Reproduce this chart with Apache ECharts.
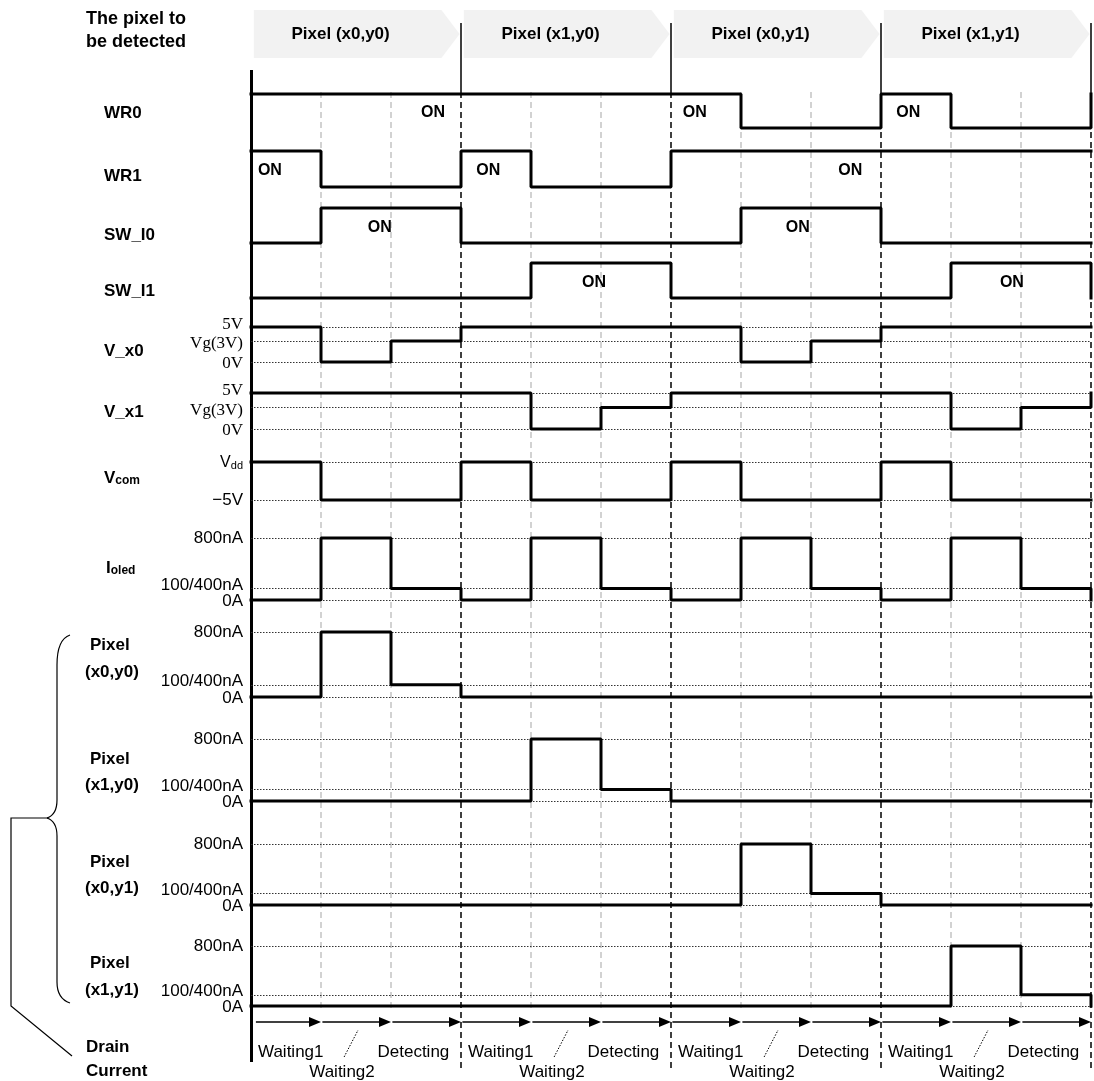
<!DOCTYPE html>
<html>
<head>
<meta charset="utf-8">
<script src="https://cdn.jsdelivr.net/npm/echarts@6/dist/echarts.min.js"></script>
<style>
  html, body { margin: 0; padding: 0; background: #fff; }
  #chart { width: 1094px; height: 1081px; }
</style>
</head>
<body>
<div id="chart"></div>
<script>
// time runs 0..12: 4 pixel periods, each split into Waiting1 / Waiting2 / Detecting
const periods = ['Pixel (x0,y0)', 'Pixel (x1,y0)', 'Pixel (x0,y1)', 'Pixel (x1,y1)']
const phases = ['Waiting1', 'Waiting2', 'Detecting']
const periodBounds = [3, 6, 9, 12]
const phaseBounds = [1, 2, 4, 5, 7, 8, 10, 11]

// step signals as [time, level]
const wr0 = [[0, 1], [7, 0], [9, 1], [10, 0], [12, 1]]
const wr1 = [[0, 1], [1, 0], [3, 1], [4, 0], [6, 1], [12, 1]]
const swI0 = [[0, 0], [1, 1], [3, 0], [7, 1], [9, 0], [12, 0]]
const swI1 = [[0, 0], [4, 1], [6, 0], [10, 1], [12, 0]]
const vX0 = [[0, 5], [1, 0], [2, 3], [3, 5], [7, 0], [8, 3], [9, 5], [12, 5]]
const vX1 = [[0, 5], [4, 0], [5, 3], [6, 5], [10, 0], [11, 3], [12, 5]]
const vCom = [[0, 5], [1, -5], [3, 5], [4, -5], [6, 5], [7, -5], [9, 5], [10, -5], [12, -5]]
const iOled = [[0, 0], [1, 800], [2, 150], [3, 0], [4, 800], [5, 150], [6, 0], [7, 800], [8, 150], [9, 0], [10, 800], [11, 150], [12, 0]]
const iPx00 = [[0, 0], [1, 800], [2, 150], [3, 0], [12, 0]]
const iPx10 = [[0, 0], [4, 800], [5, 150], [6, 0], [12, 0]]
const iPx01 = [[0, 0], [7, 800], [8, 150], [9, 0], [12, 0]]
const iPx11 = [[0, 0], [10, 800], [11, 150], [12, 0]]

// tick values and their labels
const voltTicks = [0, 3, 5]
const voltLabels = ['0V', 'Vg(3V)', '5V']
const vcomTicks = [-5, 5]
const vcomLabels = ['−5V', 'Vdd']
const currentTicks = [0, 150, 800]
const currentLabels = ['0A', '100/400nA', '800nA']

const signalNames = ['WR0', 'WR1', 'SW_I0', 'SW_I1', 'V_x0', 'V_x1', 'Vcom', 'Ioled']
const pixelNames = ['(x0,y0)', '(x1,y0)', '(x0,y1)', '(x1,y1)']

const SANS = '"Liberation Sans", Arial, sans-serif'
const SERIF = '"Liberation Serif", serif'
const LEFT = 251
const WIDTH = 840

const chart = echarts.init(document.getElementById('chart'))
const grid = []
const xAxis = []
const yAxis = []
const series = []

function addGrid(top, bottom, min, max, yExtra) {
  const gi = grid.length
  grid.push({ left: LEFT, width: WIDTH, top: top, height: bottom - top })
  xAxis.push({ gridIndex: gi, type: 'value', min: 0, max: 12, show: false })
  yAxis.push(Object.assign({ gridIndex: gi, type: 'value', min: min, max: max, show: false }, yExtra || {}))
  return { gi: gi, yi: yAxis.length - 1 }
}

// vertical guide lines in their own grid
function vlines(top, bottom, values, style) {
  const a = addGrid(top, bottom, 0, 1)
  series.push({
    type: 'line', xAxisIndex: a.gi, yAxisIndex: a.yi, silent: true, animation: false,
    data: [[0, 0]], symbol: 'none', lineStyle: { opacity: 0 },
    markLine: {
      silent: true, symbol: 'none', animation: false, label: { show: false },
      lineStyle: style, data: values.map(v => ({ xAxis: v }))
    }
  })
}

vlines(23, 94, periodBounds, { type: 'solid', color: '#000', width: 1.5 })
vlines(94, 1068, periodBounds, { type: [6, 4], color: '#000', width: 1.5 })
vlines(88, 1008, phaseBounds, { type: [6, 4], color: '#c4c4c4', width: 1.5 })
vlines(70, 1062, [0], { type: 'solid', color: '#000', width: 3 })

// header chevrons
const hAx = addGrid(10, 58, 0, 1)
series.push({
  type: 'custom', xAxisIndex: hAx.gi, yAxisIndex: hAx.yi, silent: true, animation: false,
  data: periods.map((p, i) => [i]),
  renderItem: (params, api) => {
    const p = api.value(0)
    const t0 = p * 3
    const a = api.coord([t0 + 0.04, 1])
    const b = api.coord([t0 + 2.72, 1])
    const c = api.coord([t0 + 2.98, 0.5])
    const d = api.coord([t0 + 2.72, 0])
    const e = api.coord([t0 + 0.04, 0])
    const m = api.coord([t0 + 1.28, 0.5])
    return {
      type: 'group',
      children: [
        { type: 'polygon', shape: { points: [a, b, c, d, e] }, style: { fill: '#f2f2f2', stroke: null } },
        { type: 'text', style: { text: periods[p], x: m[0], y: m[1], align: 'center', verticalAlign: 'middle', font: 'bold 17px ' + SANS, fill: '#000' } }
      ]
    }
  }
})

const richSub = {
  a: { fontSize: 16, fontFamily: SANS, color: '#000', lineHeight: 18, verticalAlign: 'bottom' },
  b: { fontSize: 11, fontFamily: SANS, color: '#000', lineHeight: 18, verticalAlign: 'bottom' },
  z: { fontSize: 17, fontFamily: SANS, color: '#000', padding: [3, 0, 0, 0] },
  m: { fontSize: 17, fontFamily: SANS, color: '#000', padding: [0, 0, 7, 0] },
  vlo: { fontSize: 17, fontFamily: SERIF, color: '#000', padding: [4, 0, 0, 0] },
  vmid: { fontSize: 17, fontFamily: SERIF, color: '#000', padding: [6, 0, 0, 0] },
  vhi: { fontSize: 17, fontFamily: SERIF, color: '#000', padding: [0, 0, 4, 0] }
}
const voltStyle = ['vlo', 'vmid', 'vhi']
const currentStyle = ['z', 'm', null]

const rows = [
  { data: wr0, top: 94, bottom: 128, min: 0, max: 1, on: [2.6, 6.34, 9.39] },
  { data: wr1, top: 151, bottom: 187, min: 0, max: 1, on: [0.27, 3.39, 8.56] },
  { data: swI0, top: 208, bottom: 243, min: 0, max: 1, on: [1.84, 7.81] },
  { data: swI1, top: 263, bottom: 298, min: 0, max: 1, on: [4.9, 10.87] },
  { data: vX0, top: 327, bottom: 362, min: 0, max: 5, ticks: voltTicks, labels: voltLabels, font: SERIF, size: 17, styles: voltStyle },
  { data: vX1, top: 393, bottom: 429, min: 0, max: 5, ticks: voltTicks, labels: voltLabels, font: SERIF, size: 17, styles: voltStyle },
  { data: vCom, top: 462, bottom: 500, min: -5, max: 5, ticks: vcomTicks, labels: vcomLabels, font: SANS, size: 17, sub: true },
  { data: iOled, top: 538, bottom: 600, min: 0, max: 800, ticks: currentTicks, labels: currentLabels, font: SANS, size: 17, styles: currentStyle },
  { data: iPx00, top: 632, bottom: 697, min: 0, max: 800, ticks: currentTicks, labels: currentLabels, font: SANS, size: 17, styles: currentStyle },
  { data: iPx10, top: 739, bottom: 801, min: 0, max: 800, ticks: currentTicks, labels: currentLabels, font: SANS, size: 17, styles: currentStyle },
  { data: iPx01, top: 844, bottom: 905, min: 0, max: 800, ticks: currentTicks, labels: currentLabels, font: SANS, size: 17, styles: currentStyle },
  { data: iPx11, top: 946, bottom: 1006, min: 0, max: 800, ticks: currentTicks, labels: currentLabels, font: SANS, size: 17, styles: currentStyle }
]

function tickAxis(r, values) {
  return {
    show: true,
    position: 'left',
    axisLine: { show: false },
    axisTick: { show: false },
    splitLine: { show: false },
    axisLabel: {
      customValues: values,
      showMinLabel: true,
      showMaxLabel: true,
      hideOverlap: false,
      margin: 8,
      color: '#000',
      fontSize: r.size,
      fontFamily: r.font,
      rich: richSub,
      formatter: v => {
        const k = r.ticks.indexOf(v)
        const txt = r.labels[k]
        if (r.sub && txt === 'Vdd') return '{a|V}{b|dd}'
        if (r.styles && r.styles[k]) return '{' + r.styles[k] + '|' + txt + '}'
        return txt
      }
    }
  }
}

rows.forEach(r => {
  // outer ticks on the main axis, the middle tick on a twin axis so none get dropped
  const outer = r.ticks ? [r.ticks[0], r.ticks[r.ticks.length - 1]] : null
  const ax = addGrid(r.top, r.bottom, r.min, r.max, r.ticks ? tickAxis(r, outer) : null)
  if (r.ticks && r.ticks.length > 2) {
    yAxis.push(Object.assign({ gridIndex: ax.gi, type: 'value', min: r.min, max: r.max }, tickAxis(r, r.ticks.slice(1, -1))))
  }
  const s = {
    type: 'line', step: 'end', xAxisIndex: ax.gi, yAxisIndex: ax.yi, data: r.data,
    symbol: 'none', clip: false, silent: true, animation: false, z: 5,
    lineStyle: { color: '#000', width: 3, cap: 'square' }
  }
  if (r.ticks) {
    s.markLine = {
      silent: true, symbol: 'none', animation: false, label: { show: false },
      lineStyle: { type: [1.5, 1.5], color: '#333', width: 1 },
      data: r.ticks.map(v => ({ yAxis: v }))
    }
  }
  if (r.on) {
    s.markPoint = {
      silent: true, animation: false, symbol: 'rect', symbolSize: 1,
      itemStyle: { color: 'rgba(0,0,0,0)' },
      label: { show: true, position: 'inside', formatter: 'ON', color: '#000', fontWeight: 'bold', fontSize: 16, fontFamily: SANS },
      data: r.on.map(t => ({ coord: [t, 0.45] }))
    }
  }
  series.push(s)
})

// phase arrows and names along the bottom
const bAx = addGrid(1012, 1072, 0, 60, { inverse: true })
const phaseData = []
periods.forEach((p, pi) => phases.forEach((ph, k) => phaseData.push([pi * 3 + k, k])))
series.push({
  type: 'custom', xAxisIndex: bAx.gi, yAxisIndex: bAx.yi, silent: true, animation: false, clip: false,
  data: phaseData,
  renderItem: (params, api) => {
    const t = api.value(0)
    const k = api.value(1)
    const start = api.coord([t === 0 ? 0.07 : t + 0.02, 10])
    const end = api.coord([t + 1, 10])
    const head = 12
    const children = [
      { type: 'line', shape: { x1: start[0], y1: start[1], x2: end[0] - head + 1, y2: end[1] }, style: { stroke: '#000', lineWidth: 1.5 } },
      { type: 'polygon', shape: { points: [[end[0] - head, end[1] - 5], [end[0], end[1]], [end[0] - head, end[1] + 5]] }, style: { fill: '#000' } }
    ]
    let pos
    let align = 'center'
    if (k === 0) {
      pos = api.coord([t + 0.1, 40])
      align = 'left'
    } else if (k === 1) {
      pos = api.coord([t + 0.3, 60])
      const d1 = api.coord([t + 0.33, 45])
      const d2 = api.coord([t + 0.53, 18])
      children.push({ type: 'line', shape: { x1: d1[0], y1: d1[1], x2: d2[0], y2: d2[1] }, style: { stroke: '#000', lineWidth: 1, lineDash: [1.5, 1.5] } })
    } else {
      pos = api.coord([t + 0.32, 40])
    }
    children.push({ type: 'text', style: { text: phases[k], x: pos[0], y: pos[1], align: align, verticalAlign: 'middle', font: '17px ' + SANS, fill: '#000' } })
    return { type: 'group', children: children }
  }
})

// left-side labels and the brace
const boldFont = 'bold 17px ' + SANS
function label(text, x, y, font) {
  return { type: 'text', x: x, y: y, style: { text: text, font: font || boldFont, fill: '#000', align: 'left', verticalAlign: 'middle', textAlign: 'left', textVerticalAlign: 'middle' } }
}
function curve(x1, y1, cx1, cy1, cx2, cy2, x2, y2) {
  return { type: 'bezierCurve', shape: { x1: x1, y1: y1, cpx1: cx1, cpy1: cy1, cpx2: cx2, cpy2: cy2, x2: x2, y2: y2 }, style: { stroke: '#000', fill: null, lineWidth: 1.2 } }
}
function seg(x1, y1, x2, y2) {
  return { type: 'line', shape: { x1: x1, y1: y1, x2: x2, y2: y2 }, style: { stroke: '#000', lineWidth: 1.2 } }
}
const rowLabelY = [113, 176, 235, 291, 351, 412]
const graphics = []
graphics.push(label('The pixel to', 86, 19, 'bold 18px ' + SANS))
graphics.push(label('be detected', 86, 42, 'bold 18px ' + SANS))
rowLabelY.forEach((y, i) => graphics.push(label(signalNames[i], 104, y)))
graphics.push({
  type: 'text', x: 104, y: 476,
  style: {
    text: '{m|V}{s|com}', fill: '#000', verticalAlign: 'middle', textVerticalAlign: 'middle',
    rich: {
      m: { font: boldFont, fill: '#000', lineHeight: 22, verticalAlign: 'bottom' },
      s: { font: 'bold 12px ' + SANS, fill: '#000', lineHeight: 22, verticalAlign: 'bottom' }
    }
  }
})
graphics.push({
  type: 'text', x: 106, y: 566,
  style: {
    text: '{m|I}{s|oled}', fill: '#000', verticalAlign: 'middle', textVerticalAlign: 'middle',
    rich: {
      m: { font: boldFont, fill: '#000', lineHeight: 22, verticalAlign: 'bottom' },
      s: { font: 'bold 12px ' + SANS, fill: '#000', lineHeight: 22, verticalAlign: 'bottom' }
    }
  }
})
const pixelLabelY = [[645, 672], [759, 785], [862, 888], [963, 990]]
pixelLabelY.forEach((ys, i) => {
  graphics.push(label('Pixel', 90, ys[0]))
  graphics.push(label(pixelNames[i], 85, ys[1]))
})
graphics.push(label('Drain', 86, 1047))
graphics.push(label('Current', 86, 1071))
// curly brace grouping the four pixel rows
graphics.push(curve(70, 635, 61, 638, 57, 648, 57, 665))
graphics.push(seg(57, 665, 57, 800))
graphics.push(curve(57, 800, 57, 811, 53, 816, 47, 818))
graphics.push(curve(47, 818, 53, 820, 57, 825, 57, 836))
graphics.push(seg(57, 836, 57, 982))
graphics.push(curve(57, 982, 57, 993, 61, 1000, 70, 1003))
graphics.push({
  type: 'polyline',
  shape: { points: [[48, 818], [11, 818], [11, 1006], [72, 1056]] },
  style: { stroke: '#000', fill: null, lineWidth: 1.2 }
})

chart.setOption({
  backgroundColor: '#fff',
  animation: false,
  grid: grid,
  xAxis: xAxis,
  yAxis: yAxis,
  series: series,
  graphic: graphics
})
</script>
</body>
</html>
